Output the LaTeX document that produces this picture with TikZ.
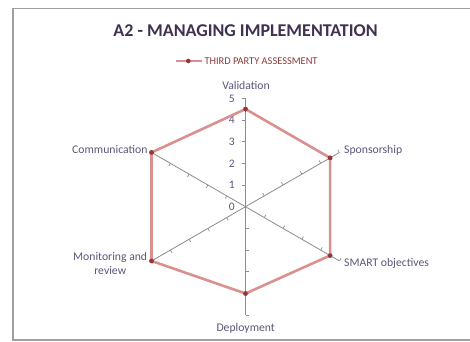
\documentclass[tikz,border=0pt]{standalone}
\usepackage{fontspec}
\setmainfont{Carlito}
\definecolor{titlecol}{HTML}{3F3151}
\definecolor{labcol}{HTML}{5E5478}
\definecolor{axiscol}{HTML}{8C8C8C}
\definecolor{seriescol}{HTML}{D9908E}
\definecolor{markcol}{HTML}{953735}
\definecolor{legcol}{HTML}{8B3A3A}
\definecolor{framecol}{HTML}{A0A0A0}
\tikzset{
  axisline/.style={draw=axiscol, line width=0.8pt},
  tickline/.style={draw=axiscol, line width=0.7pt},
  seriesline/.style={draw=seriescol, line width=2.6pt, line join=miter},
  marker/.style={circle, fill=markcol, inner sep=0pt, minimum size=4.6pt},
  catlabel/.style={text=labcol, font=\fontsize{11.7pt}{14.5pt}\selectfont, inner sep=0pt},
  numlabel/.style={text=labcol, font=\fontsize{11.5pt}{13pt}\selectfont, inner sep=0pt, anchor=base east},
}
\begin{document}
\begin{tikzpicture}[x=1pt,y=1pt]
\useasboundingbox (0,0) rectangle (470,-341);
% frame
\draw[framecol, line width=1.4pt] (471,-8.7) -- (13,-8.7) -- (13,-340) -- (471,-340);
% title
\node[text=titlecol, font=\fontsize{18pt}{20pt}\selectfont\bfseries, inner sep=0pt, anchor=base] (title) at (245.5,-36.6) {A2 - MANAGING IMPLEMENTATION};
% legend
\coordinate (legA) at (175.7,-61);
\coordinate (legB) at (202.3,-61);
\draw[seriesline] (legA) -- (legB);
\node[marker] (legM) at (188.3,-61) {};
\node[text=legcol, font=\fontsize{10.4pt}{12pt}\selectfont, inner sep=0pt, anchor=base west] (legT) at (204.3,-64.5) {THIRD PARTY ASSESSMENT};
% chart
\begin{scope}[shift={(245.5,-206.7)}]
  \coordinate (O) at (0,0);
  \def\u{21.7}
  % axes
  \foreach \ang/\nm in {90/aV,30/aS,-30/aM,-90/aD,210/aR,150/aC}{
    \coordinate (\nm) at (\ang:5*\u);
    \draw[axisline] (O) -- (\nm);
    \foreach \k in {1,...,5}{
      \draw[tickline] (\ang:\k*\u) -- ++(\ang+90:3.2);
    }
  }
  % numbers
  \foreach \k in {0,...,5}{
    \node[numlabel] (n\k) at (-10.5,\k*\u-3.9) {\k};
  }
  % data points
  \node[marker] (pV) at (90:4.5*\u) {};
  \node[marker] (pS) at (30:4.5*\u) {};
  \node[marker] (pM) at (-30:4.5*\u) {};
  \node[marker] (pD) at (-90:4*\u) {};
  \node[marker] (pR) at (210:5*\u) {};
  \node[marker] (pC) at (150:5*\u) {};
  \draw[seriesline] (pV.center) -- (pS.center) -- (pM.center) -- (pD.center) -- (pR.center) -- (pC.center) -- cycle;
  \foreach \p in {pV,pS,pM,pD,pR,pC}{\node[marker] at (\p) {};}
\end{scope}
% category labels
\node[catlabel, anchor=base] (lV) at (246,-89.4) {Validation};
\node[catlabel, anchor=base west] (lS) at (344,-153) {Sponsorship};
\node[catlabel, anchor=base west] (lM) at (344,-266.5) {SMART objectives};
\node[catlabel, anchor=base] (lD) at (245.7,-331) {Deployment};
\node[catlabel, anchor=base east] (lC) at (147.7,-153) {Communication};
\node[catlabel, align=center, anchor=center] (lR) at (110.2,-263.5) {Monitoring and\\review};
\end{tikzpicture}
\end{document}
